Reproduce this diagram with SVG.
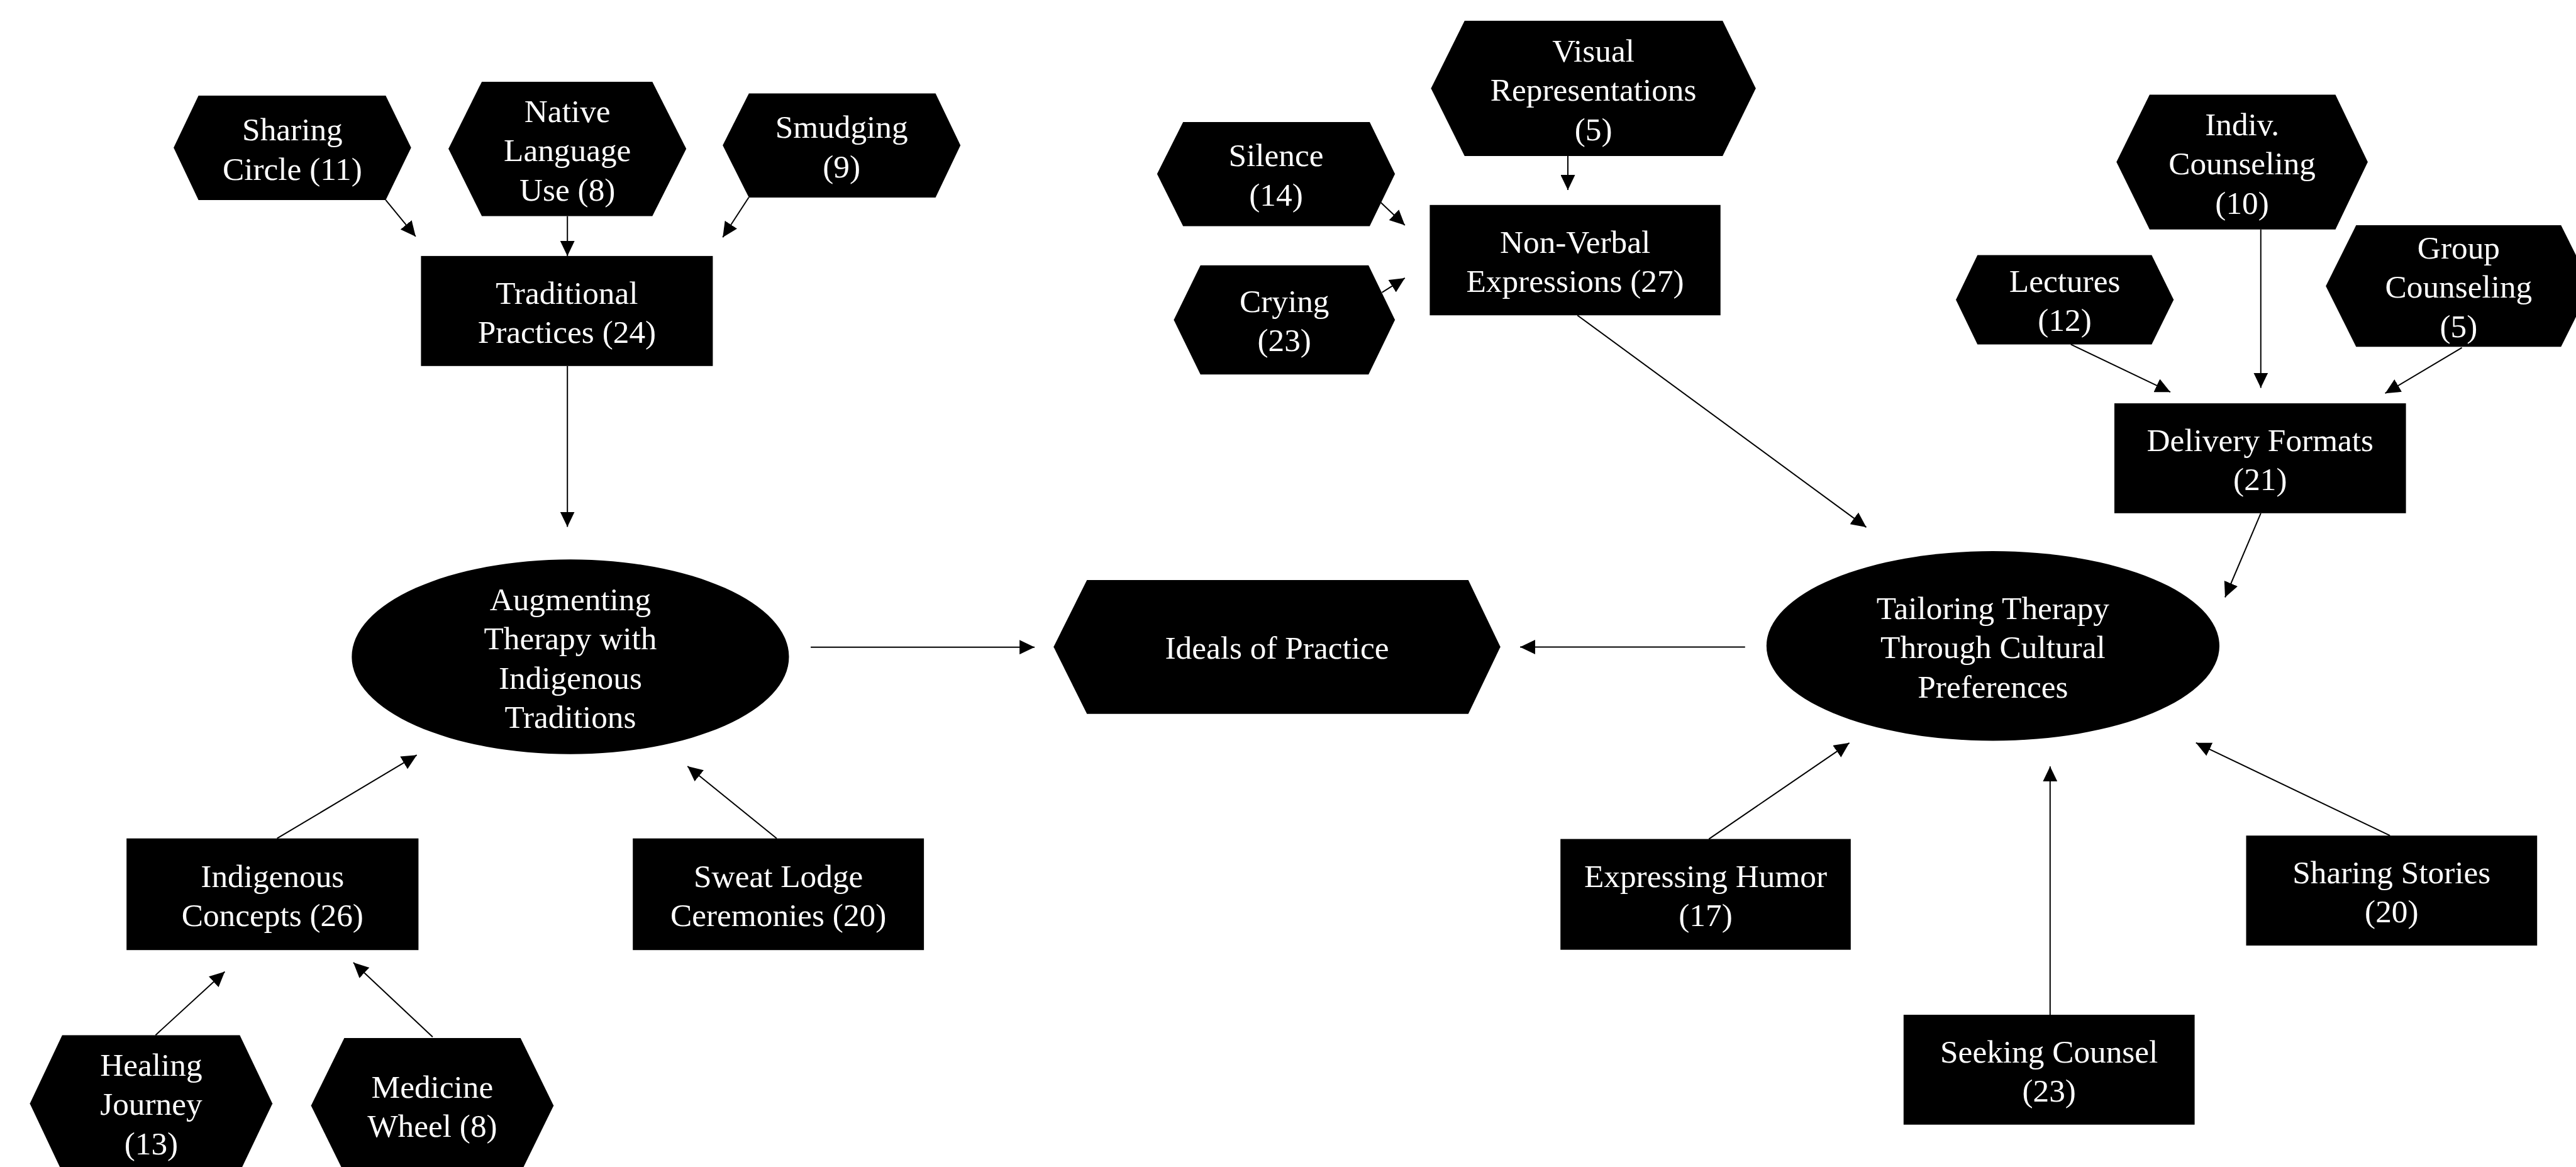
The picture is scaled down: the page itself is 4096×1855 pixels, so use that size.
<svg xmlns="http://www.w3.org/2000/svg" width="4096" height="1855" viewBox="0 0 4096 1855">
<style>
.n{fill:#000}
.t{fill:#fff;font-family:"Liberation Serif","Times New Roman",serif;font-size:51.3px;text-anchor:middle}
.e{stroke:#000;stroke-width:2;fill:none;marker-end:url(#ah)}
</style>
<defs>
<marker id="ah" markerUnits="userSpaceOnUse" markerWidth="24" markerHeight="23" refX="24" refY="11.5" orient="auto">
<path d="M0,0 L24,11.5 L0,23 Z" fill="#000"/>
</marker>
</defs>
<rect width="4096" height="1855" fill="#fff"/>
<g id="connectors">
<line class="e" x1="613.3" y1="317.9" x2="660.9" y2="375.9"/>
<line class="e" x1="902.2" y1="343.5" x2="902.2" y2="406.9"/>
<line class="e" x1="1190.6" y1="313.8" x2="1149.2" y2="377.2"/>
<line class="e" x1="902.2" y1="581.8" x2="902.2" y2="837.5"/>
<line class="e" x1="1289.1" y1="1028.7" x2="1645.1" y2="1028.7"/>
<line class="e" x1="440.6" y1="1332.7" x2="662.7" y2="1200.2"/>
<line class="e" x1="1235" y1="1332.7" x2="1093.2" y2="1218"/>
<line class="e" x1="247.3" y1="1645.4" x2="357.4" y2="1544.5"/>
<line class="e" x1="687.9" y1="1648.3" x2="561.9" y2="1530"/>
<line class="e" x1="2493" y1="248" x2="2493" y2="302.1"/>
<line class="e" x1="2194.9" y1="321.2" x2="2233.8" y2="358.1"/>
<line class="e" x1="2197.5" y1="464.9" x2="2233.8" y2="441.9"/>
<line class="e" x1="2508.2" y1="501.2" x2="2967.5" y2="838.1"/>
<line class="e" x1="2774.8" y1="1028.5" x2="2417" y2="1028.5"/>
<line class="e" x1="3594.8" y1="364.7" x2="3594.8" y2="616.6"/>
<line class="e" x1="3292.7" y1="547.4" x2="3451" y2="623.2"/>
<line class="e" x1="3914.6" y1="552.7" x2="3792.6" y2="625.2"/>
<line class="e" x1="3594.8" y1="815.8" x2="3538" y2="949.5"/>
<line class="e" x1="2717.3" y1="1333.6" x2="2940.6" y2="1180.8"/>
<line class="e" x1="3259.8" y1="1613" x2="3259.8" y2="1218.2"/>
<line class="e" x1="3800.1" y1="1328.2" x2="3491.7" y2="1180.7"/>
</g>
<g id="sharing-circle">
<polygon class="n" points="276.1,234.7 315.6,152 613.3,152 653.7,234.7 613.3,317.9 315.6,317.9"/>
<text class="t" x="464.9" y="223">Sharing</text>
<text class="t" x="464.9" y="285.5">Circle (11)</text>
</g>
<g id="native-language">
<polygon class="n" points="713.1,236.5 766.1,129.9 1037.3,129.9 1091.2,236.5 1037.3,343.5 766.1,343.5"/>
<text class="t" x="902.2" y="193.5">Native</text>
<text class="t" x="902.2" y="256">Language</text>
<text class="t" x="902.2" y="318.5">Use (8)</text>
</g>
<g id="smudging">
<polygon class="n" points="1149.2,231.1 1190.8,148.4 1487.6,148.4 1527.2,231.1 1487.6,313.9 1190.8,313.9"/>
<text class="t" x="1338.2" y="219.4">Smudging</text>
<text class="t" x="1338.2" y="281.9">(9)</text>
</g>
<g id="traditional-practices">
<rect class="n" x="669.4" y="406.9" width="464" height="174.9"/>
<text class="t" x="901.4" y="482.6">Traditional</text>
<text class="t" x="901.4" y="545.1">Practices (24)</text>
</g>
<g id="augmenting">
<ellipse class="n" cx="906.9" cy="1044" rx="347.6" ry="154.7"/>
<text class="t" x="906.9" y="969.8">Augmenting</text>
<text class="t" x="906.9" y="1032.3">Therapy with</text>
<text class="t" x="906.9" y="1094.8">Indigenous</text>
<text class="t" x="906.9" y="1157.3">Traditions</text>
</g>
<g id="ideals">
<polygon class="n" points="1675.3,1028.3 1728.3,921.9 2334.7,921.9 2385.7,1028.3 2334.7,1134.8 1728.3,1134.8"/>
<text class="t" x="2030.5" y="1046.5">Ideals of Practice</text>
</g>
<g id="indigenous-concepts">
<rect class="n" x="201.2" y="1332.7" width="464.2" height="177.5"/>
<text class="t" x="433.3" y="1409.7">Indigenous</text>
<text class="t" x="433.3" y="1472.2">Concepts (26)</text>
</g>
<g id="sweat-lodge">
<rect class="n" x="1006.2" y="1332.7" width="462.9" height="177.5"/>
<text class="t" x="1237.7" y="1409.7">Sweat Lodge</text>
<text class="t" x="1237.7" y="1472.2">Ceremonies (20)</text>
</g>
<g id="healing-journey">
<polygon class="n" points="47.5,1754.2 98.9,1645.4 381.3,1645.4 433.2,1754.2 381.3,1863 98.9,1863"/>
<text class="t" x="240.4" y="1709.5">Healing</text>
<text class="t" x="240.4" y="1772">Journey</text>
<text class="t" x="240.4" y="1834.5">(13)</text>
</g>
<g id="medicine-wheel">
<polygon class="n" points="494.6,1757.4 547.4,1650.1 827.7,1650.1 880.3,1757.4 827.7,1864.8 547.4,1864.8"/>
<text class="t" x="687.4" y="1744.5">Medicine</text>
<text class="t" x="687.4" y="1807">Wheel (8)</text>
</g>
<g id="visual-representations">
<polygon class="n" points="2275.4,140.5 2328.8,33 2739.1,33 2791.8,140.5 2739.1,248 2328.8,248"/>
<text class="t" x="2533.6" y="97.5">Visual</text>
<text class="t" x="2533.6" y="160">Representations</text>
<text class="t" x="2533.6" y="222.5">(5)</text>
</g>
<g id="silence">
<polygon class="n" points="1839.8,276.5 1881.2,193.9 2177.9,193.9 2218.1,276.5 2177.9,359.4 1881.2,359.4"/>
<text class="t" x="2029" y="264.3">Silence</text>
<text class="t" x="2029" y="326.8">(14)</text>
</g>
<g id="crying">
<polygon class="n" points="1866.4,508.5 1908.8,421.7 2176.1,421.7 2218.1,508.5 2176.1,595.3 1908.8,595.3"/>
<text class="t" x="2042.2" y="495.5">Crying</text>
<text class="t" x="2042.2" y="558">(23)</text>
</g>
<g id="non-verbal">
<rect class="n" x="2273.4" y="325.8" width="462.3" height="175.4"/>
<text class="t" x="2504.6" y="401.8">Non-Verbal</text>
<text class="t" x="2504.6" y="464.3">Expressions (27)</text>
</g>
<g id="indiv-counseling">
<polygon class="n" points="3365.3,257.5 3418,150.4 3713.5,150.4 3764.9,257.5 3713.5,364.7 3418,364.7"/>
<text class="t" x="3565.1" y="214.5">Indiv.</text>
<text class="t" x="3565.1" y="277">Counseling</text>
<text class="t" x="3565.1" y="339.5">(10)</text>
</g>
<g id="lectures">
<polygon class="n" points="3110,476.5 3144.3,405.6 3421.3,405.6 3456.3,476.5 3421.3,547.4 3144.3,547.4"/>
<text class="t" x="3283.1" y="463.5">Lectures</text>
<text class="t" x="3283.1" y="526">(12)</text>
</g>
<g id="group-counseling">
<polygon class="n" points="3698.2,454.7 3746.4,358.1 4072.2,358.1 4120.4,454.7 4072.2,551.3 3746.4,551.3"/>
<text class="t" x="3909.4" y="410.5">Group</text>
<text class="t" x="3909.4" y="473">Counseling</text>
<text class="t" x="3909.4" y="535.5">(5)</text>
</g>
<g id="delivery-formats">
<rect class="n" x="3362" y="641.1" width="463.6" height="174.7"/>
<text class="t" x="3593.8" y="716.7">Delivery Formats</text>
<text class="t" x="3593.8" y="779.2">(21)</text>
</g>
<g id="tailoring">
<ellipse class="n" cx="3168.9" cy="1026.7" rx="360.1" ry="150.7"/>
<text class="t" x="3168.9" y="983.7">Tailoring Therapy</text>
<text class="t" x="3168.9" y="1046.2">Through Cultural</text>
<text class="t" x="3168.9" y="1108.7">Preferences</text>
</g>
<g id="expressing-humor">
<rect class="n" x="2481.2" y="1333.6" width="461.6" height="176.1"/>
<text class="t" x="2712" y="1409.9">Expressing Humor</text>
<text class="t" x="2712" y="1472.4">(17)</text>
</g>
<g id="seeking-counsel">
<rect class="n" x="3026.8" y="1613" width="462.8" height="174.7"/>
<text class="t" x="3258.2" y="1688.7">Seeking Counsel</text>
<text class="t" x="3258.2" y="1751.2">(23)</text>
</g>
<g id="sharing-stories">
<rect class="n" x="3571.5" y="1328.2" width="462.7" height="174.8"/>
<text class="t" x="3802.8" y="1403.9">Sharing Stories</text>
<text class="t" x="3802.8" y="1466.4">(20)</text>
</g>
</svg>
